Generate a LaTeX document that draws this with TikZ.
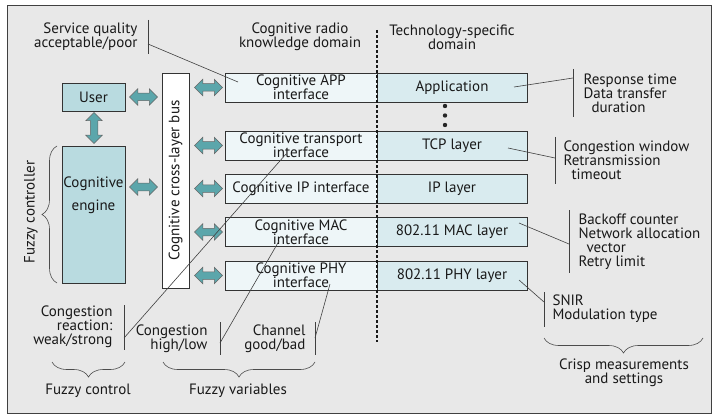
\documentclass[tikz,border=0pt]{standalone}
\usepackage{fontspec}
\setmainfont{PT Sans}
\usetikzlibrary{positioning, shapes.arrows, decorations.pathreplacing}
\definecolor{panelgray}{HTML}{E8E8E8}
\definecolor{paleblue}{HTML}{EEF6F8}
\definecolor{layerblue}{HTML}{D9EBEF}
\definecolor{engineblue}{HTML}{B9DBE0}
\definecolor{arrowteal}{HTML}{5BA6AB}
\tikzstyle{cogbox} = [rectangle, draw=black!80, fill=paleblue, line width=0.8pt,
                 minimum width=152pt, minimum height=29pt, inner sep=0pt, align=center]
\tikzstyle{layerbox} = [rectangle, draw=black!80, fill=layerblue, line width=0.8pt,
                 minimum width=150pt, minimum height=29pt, inner sep=0pt, align=center]
\tikzstyle{ctrlbox} = [rectangle, draw=black!80, fill=engineblue, line width=0.8pt,
                 minimum width=63pt, inner sep=0pt, align=center]
\tikzset{
	every node/.style={font=\fontsize{15}{14}\selectfont, text=black!90},
	dblarrow/.style={double arrow, draw=black!60, fill=arrowteal, line width=0.5pt,
		minimum height=28pt, inner sep=3.5pt, double arrow head extend=4.5pt},
	note/.style={draw=black!75, line width=0.6pt},
	bar/.style={draw=black!75, line width=0.8pt},
	fuzzybrace/.style={draw=black!70, line width=0.6pt, decorate,
		decoration={brace, amplitude=15pt}},
}

\begin{document}
\begin{tikzpicture}[x=1pt, y=-1pt]
\useasboundingbox (0,0) rectangle (714,414);
\draw [fill=panelgray, draw=black!75, line width=0.8pt] (7,5) rectangle (711,413);

% headings
\node [align=right, anchor=east] at (141,37) (svc) {Service quality\\acceptable/poor};
\node [align=center] at (300,37) (crk) {Cognitive radio\\knowledge domain};
\node [align=center] at (452,37) (tsd) {Technology-specific\\domain};

% layers
\foreach \y/\name/\cog/\tech in {87.5/app/{Cognitive APP\\interface}/Application,
	145.5/tcp/{Cognitive transport\\interface}/TCP layer,
	188.5/ip/{Cognitive IP interface}/IP layer,
	232/mac/{Cognitive MAC\\interface}/802.11 MAC layer,
	275.5/phy/{Cognitive PHY\\interface}/802.11 PHY layer}
{
	\node [cogbox] at (301,\y) (cog\name) {\cog};
	\node [layerbox] at (452,\y) (tech\name) {\tech};
	\node [dblarrow] at (208.5,\y) (arr\name) {};
}
\foreach \y in {106, 115.5, 125}
	\fill [black!85] (445,\y) circle (2.2pt);
\draw [black!90, line width=1.3pt, dash pattern=on 3pt off 2pt] (377,30) -- (377,342);

% controller side
\node [ctrlbox, minimum height=28pt] at (93.5,97) (user) {User};
\node [ctrlbox, minimum height=137pt] at (93.5,214.5) (engine) {};
\node [align=center] at (93.5,195) (enginelabel) {Cognitive\\[9pt]engine};
\node [rectangle, draw=black!80, fill=white, line width=0.8pt, minimum width=27pt,
	minimum height=215pt, inner sep=0pt] at (175.5,180.5) (bus) {};
\node [rotate=90] at (bus.center) (buslabel) {Cognitive cross-layer bus};
\node [dblarrow] at (143.5,97) (arruser) {};
\node [dblarrow] at (143.5,187) (arrengine) {};
\node [dblarrow, shape border rotate=90, minimum height=31pt] at (94,128) (arrvert) {};
\draw [fuzzybrace] (57,283) -- (57,146);
\node [rotate=90] at (31,212) (fctrl) {Fuzzy controller};

% crisp measurements
\node [align=left, anchor=west] at (580,93) (appnote) {Response time\\Data transfer\\\hspace*{8pt}duration};
\node [align=left, anchor=west] at (560,160) (tcpnote) {Congestion window\\Retransmission\\\hspace*{8pt}timeout};
\node [align=left, anchor=west] at (575,242) (macnote) {Backoff counter\\Network allocation\\\hspace*{8pt}vector\\Retry limit};
\node [align=left, anchor=west] at (549,309) (phynote) {SNIR\\Modulation type};
\foreach \name/\x/\ya/\yb/\xin/\yin/\yout in {app/573/69/117/514/87/78,
	tcp/555/137/184/508/148/158, mac/569/210/273/519/223/244, phy/544/292/327/519/280/302}
{
	\coordinate (\name bar) at (\x,\yout);
	\coordinate (\name in) at (\xin,\yin);
	\draw [bar] (\x,\ya) -- (\x,\yb);
	\draw [note] (\name in) -- (\name bar);
}
\draw [fuzzybrace] (703,338) -- (544,338);
\node [align=center] at (624,373) (crisp) {Crisp measurements\\and settings};

% fuzzy side
\coordinate (svcbar) at (148,44);
\coordinate (svcin) at (238,82);
\draw [bar] (148,20) -- (148,54);
\draw [note] (svcbar) -- (svcin);
\node [align=right, anchor=east] at (116,327) (react) {Congestion\\reaction:\\weak/strong};
\node [align=right, anchor=east] at (211,339) (cong) {Congestion\\high/low};
\node [align=right, anchor=east] at (309,339) (chan) {Channel\\good/bad};
\foreach \name/\x/\ya/\yb/\xin/\yin/\yout in {react/124/305/350/286/154/338,
	cong/220/322/355/279/241/343, chan/315/322/355/330/284/338}
{
	\coordinate (\name bar) at (\x,\yout);
	\coordinate (\name in) at (\xin,\yin);
	\draw [bar] (\x,\ya) -- (\x,\yb);
	\draw [note] (\name in) -- (\name bar);
}
\draw [fuzzybrace] (125,362) -- (52,362);
\draw [fuzzybrace] (315,362) -- (163,362);
\node at (88,391) (fcontrol) {Fuzzy control};
\node at (238,391) (fvars) {Fuzzy variables};

\end{tikzpicture}
\end{document}
